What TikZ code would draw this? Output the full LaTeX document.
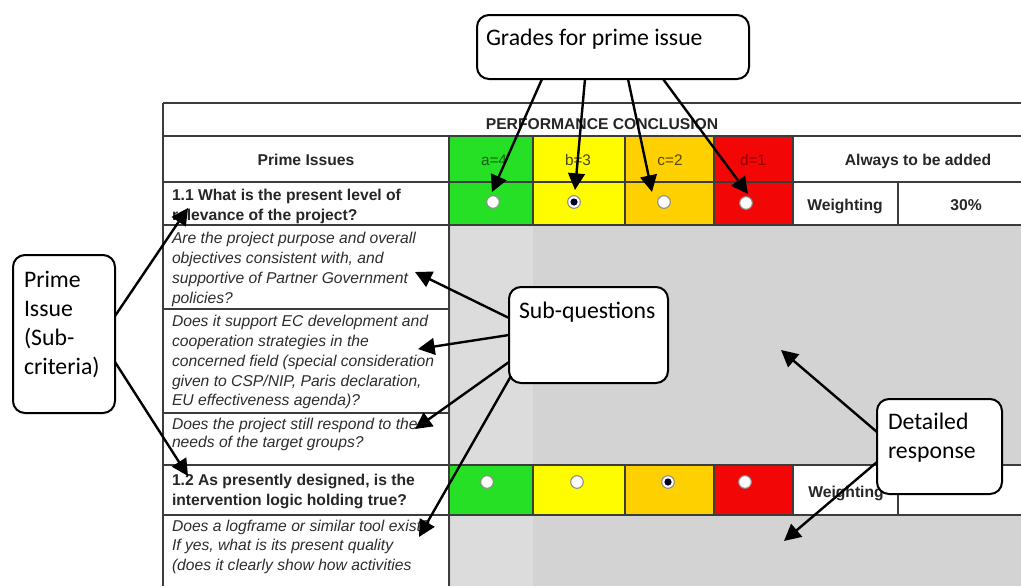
\documentclass[tikz,border=0pt]{standalone}
\usepackage{fontspec}
\setmainfont{Liberation Sans}
\newfontfamily\calloutfont{Carlito}
\usetikzlibrary{arrows.meta}
\definecolor{cgreen}{RGB}{38,224,38}
\definecolor{cyellow}{RGB}{255,252,0}
\definecolor{corange}{RGB}{254,208,0}
\definecolor{cred}{RGB}{242,6,6}
\definecolor{respgray}{RGB}{211,211,211}
\definecolor{respgraylt}{RGB}{220,220,220}
\definecolor{gridc}{RGB}{60,60,60}
\definecolor{qtext}{RGB}{45,45,45}
\definecolor{tga}{RGB}{15,100,15}
\definecolor{tgb}{RGB}{70,70,20}
\definecolor{tgc}{RGB}{85,70,10}
\definecolor{tgd}{RGB}{140,0,0}
\tikzset{
  grid line/.style={draw=gridc, line width=1pt},
  tabtext/.style={inner sep=0, outer sep=0, align=left, anchor=north west,
    font=\fontsize{11.75}{15}\selectfont, text=qtext},
  hdrtext/.style={inner sep=0, anchor=base, font=\fontsize{11.75}{15}\selectfont\bfseries, text=black!85},
  gradetext/.style={inner sep=0, anchor=base, font=\fontsize{11.5}{15}\selectfont},
  radio/.style={circle, draw=black!45, fill=white, minimum size=9.5pt, inner sep=0, line width=0.8pt},
  callbox/.style={draw=black, line width=1.5pt, rounded corners=9pt, fill=white,
    inner sep=0, outer sep=0},
  calltext/.style={inner sep=0, outer sep=0, align=left, text=black,
    font=\calloutfont\fontsize{17.8}{21.75}\selectfont},
  callarrow/.style={line width=1.8pt, -{Triangle[length=12.5pt,width=12.5pt]}}
}
\begin{document}
\begin{tikzpicture}[x=0.75pt,y=-0.75pt]
\useasboundingbox (0,0) rectangle (1021,586);
\fill[white] (0,0) rectangle (1021,586);

% response areas
\fill[respgray] (449,225) rectangle (1021,465);
\fill[respgray] (449,515) rectangle (1021,586);
\fill[respgraylt] (451,225) rectangle (533,465);
\fill[respgraylt] (451,515) rectangle (533,586);

% grade cells
\fill[cgreen] (449,136) rectangle (533,225);
\fill[cyellow] (533,136) rectangle (625,225);
\fill[corange] (625,136) rectangle (714,225);
\fill[cred] (714,136) rectangle (793,225);
\fill[cgreen] (449,465) rectangle (533,515);
\fill[cyellow] (533,465) rectangle (625,515);
\fill[corange] (625,465) rectangle (714,515);
\fill[cred] (714,465) rectangle (793,515);

% grid
\draw[grid line] (163,103) -- (1021,103);
\draw[grid line] (163,103) -- (163,586);
\foreach \yy in {136,182,225,465,515} \draw[grid line] (163,\yy) -- (1021,\yy);
\foreach \yy in {309,413} \draw[grid line] (163,\yy) -- (449,\yy);
\draw[grid line] (449,136) -- (449,586);
\foreach \xx in {533,625,714,793} {
  \draw[grid line] (\xx,136) -- (\xx,225);
  \draw[grid line] (\xx,465) -- (\xx,515);
}
\draw[grid line] (898,182) -- (898,225);
\draw[grid line] (898,465) -- (898,515);

% header texts
\node[hdrtext] (perf) at (602,129) {PERFORMANCE CONCLUSION};
\node[hdrtext] (prime) at (306,165) {Prime Issues};
\node[gradetext, text=tga] (ga) at (494,165) {a=4};
\node[gradetext, text=tgb] (gb) at (578,165) {b=3};
\node[gradetext, text=tgc] (gc) at (670,165) {c=2};
\node[gradetext, text=tgd] (gd) at (753,165) {d=1};
\node[hdrtext] (always) at (918,165) {Always to be added};
\node[hdrtext] (w11) at (845,210) {Weighting};
\node[hdrtext] (p11) at (966,210) {30\%};
\node[hdrtext] (w12) at (846,497) {Weighting};

% left column texts
\node[tabtext, font=\fontsize{11.75}{15}\selectfont\bfseries, text=black!85] (q11) at (172,186)
  {\strut 1.1 What is the present level of\\\strut relevance of the project?};
\node[tabtext, font=\fontsize{11.75}{15}\selectfont\itshape] (qa) at (172,229)
  {\strut Are the project purpose and overall\\\strut objectives consistent with, and\\\strut supportive of Partner Government\\\strut policies?};
\node[tabtext, font=\fontsize{11.75}{14.8}\selectfont\itshape] (qb) at (172,313)
  {\strut Does it support EC development and\\\strut cooperation strategies in the\\\strut concerned field (special consideration\\\strut given to CSP/NIP, Paris declaration,\\\strut EU effectiveness agenda)?};
\node[tabtext, font=\fontsize{11.75}{14}\selectfont\itshape] (qc) at (172,416)
  {\strut Does the project still respond to the\\\strut needs of the target groups?};
\node[tabtext, font=\fontsize{11.75}{15}\selectfont\bfseries, text=black!85] (q12) at (172,471)
  {\strut 1.2 As presently designed, is the\\\strut intervention logic holding true?};
\node[tabtext, font=\fontsize{11.75}{14.5}\selectfont\itshape] (qd) at (172,518)
  {\strut Does a logframe or similar tool exist?\\\strut If yes, what is its present quality\\\strut (does it clearly show how activities};

% radio buttons
\node[radio] (r1a) at (493,202) {};
\node[radio] (r1b) at (574,202) {};
\node[radio] (r1c) at (664,202) {};
\node[radio] (r1d) at (746,203) {};
\fill[black!85!blue] (r1b) circle (3.6);
\node[radio] (r2a) at (487,482) {};
\node[radio] (r2b) at (577,482) {};
\node[radio] (r2c) at (668,482) {};
\node[radio] (r2d) at (745,482) {};
\fill[black!85!blue] (r2c) circle (3.6);

% callouts
\node[callbox, minimum width=204pt, minimum height=48pt] (grades) at (613,47) {};
\node[calltext, anchor=base west] (gradestxt) at (486,45) {Grades for prime issue};
\node[callbox, minimum width=76.5pt, minimum height=118.5pt] (primebox) at (64,334) {};
\node[calltext, anchor=north west] (primetxt) at (24,266.7) {\strut Prime\\\strut Issue\\\strut (Sub-\\\strut criteria)};
\node[callbox, minimum width=119.25pt, minimum height=72pt] (subq) at (588.5,335) {};
\node[calltext, anchor=base west] (subqtxt) at (519,318) {Sub-questions};
\node[callbox, minimum width=93.75pt, minimum height=71.25pt] (det) at (939.5,446.5) {};
\node[calltext, anchor=north west] (dettxt) at (888,408.7) {\strut Detailed\\\strut response};

% arrow tips
\coordinate (tg1) at (492,192);
\coordinate (tg2) at (575,190);
\coordinate (tg3) at (652,192);
\coordinate (tg4) at (748,194);
\coordinate (tp1) at (188,208);
\coordinate (tp2) at (188,476);
\coordinate (ts1) at (415,272);
\coordinate (ts2) at (418,349);
\coordinate (ts3) at (415,429);
\coordinate (ts4) at (419,537);
\coordinate (td1) at (781,350);
\coordinate (td2) at (784,541);

% arrows
\draw[callarrow] (grades.south west -| 542,0) -- (tg1);
\draw[callarrow] (grades.south west -| 585,0) -- (tg2);
\draw[callarrow] (grades.south west -| 628,0) -- (tg3);
\draw[callarrow] (grades.south west -| 663,0) -- (tg4);
\draw[callarrow] (primebox.east |- 0,316) -- (tp1);
\draw[callarrow] (primebox.east |- 0,362) -- (tp2);
\draw[callarrow] (subq.west |- 0,318) -- (ts1);
\draw[callarrow] (subq.west |- 0,335) -- (ts2);
\draw[callarrow] (subq.west |- 0,362) -- (ts3);
\draw[callarrow] ([xshift=1.5pt]subq.west |- 0,376) -- (ts4);
\draw[callarrow] (det.west |- 0,432) -- (td1);
\draw[callarrow] (det.west |- 0,462) -- (td2);
\end{tikzpicture}
\end{document}
